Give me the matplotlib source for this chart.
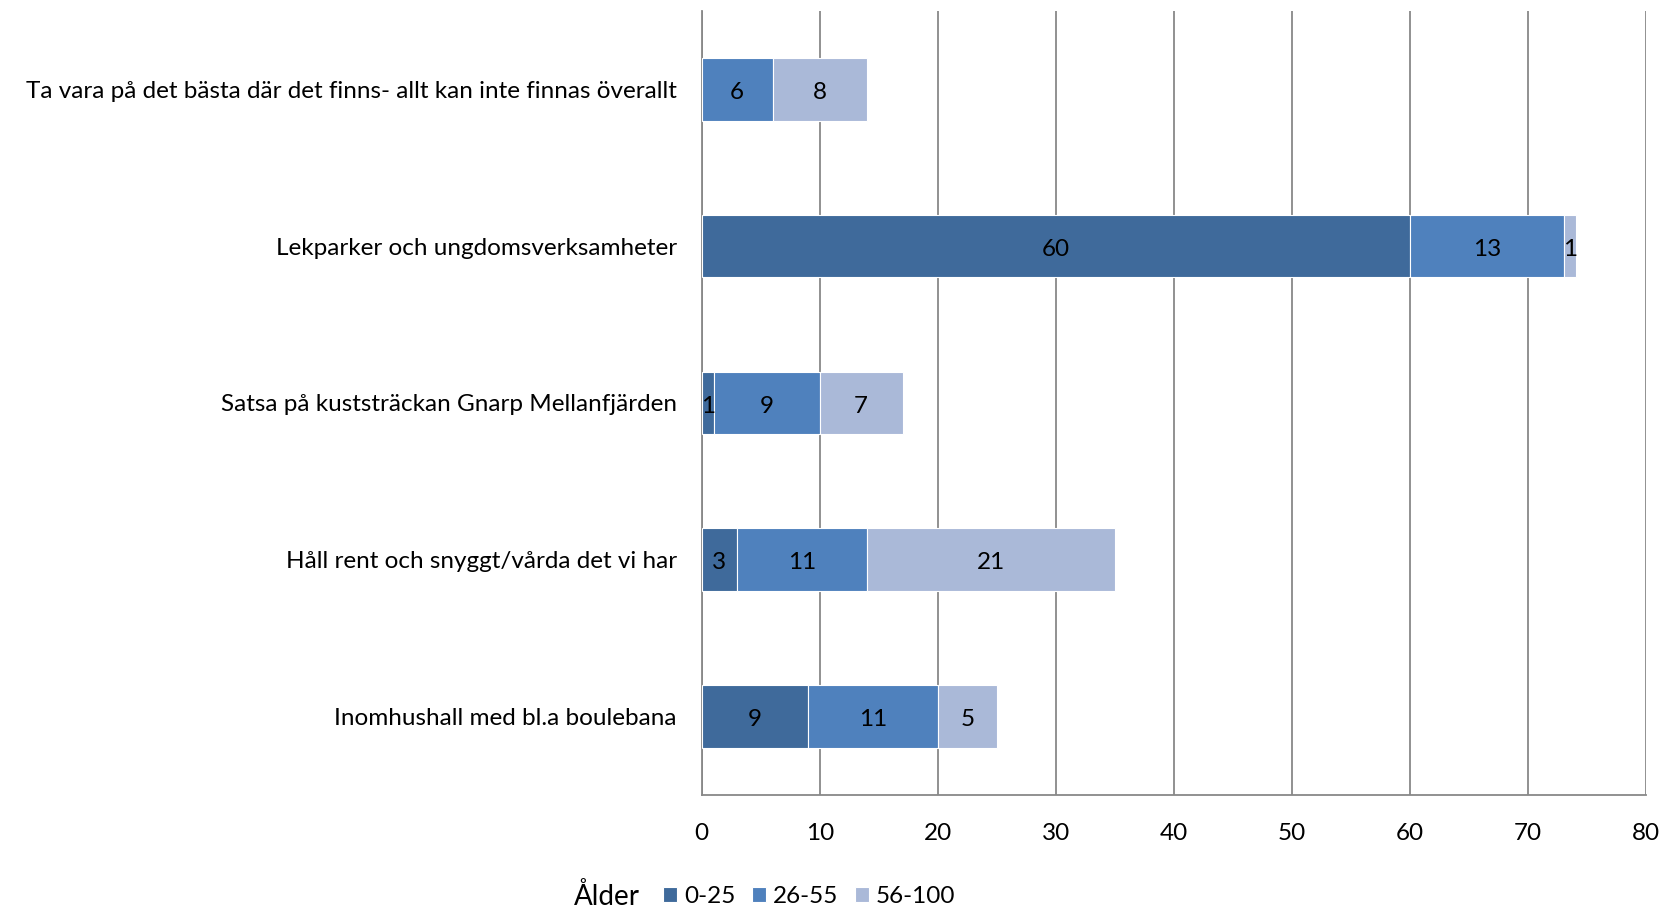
import numpy as np
import matplotlib.pyplot as plt

plt.rcParams['font.family'] = ['Lato', 'DejaVu Sans']

categories = ['Ta vara på det bästa där det finns- allt kan inte finnas överallt',
              'Lekparker och ungdomsverksamheter',
              'Satsa på kuststräckan Gnarp Mellanfjärden',
              'Håll rent och snyggt/vårda det vi har',
              'Inomhushall med bl.a boulebana']
age_groups = ['0-25', '26-55', '56-100']
v_0_25 = [0, 60, 1, 3, 9]
v_26_55 = [6, 13, 9, 11, 11]
v_56_100 = [8, 1, 7, 21, 5]
colors = ['#3F6A9B', '#4F81BD', '#AAB9D8']

fig = plt.figure(figsize=(16.63, 9.10), dpi=100)
ax = fig.add_axes([0.422, 0.1264, 0.568, 0.8616])

y = np.arange(len(categories))[::-1]
left = np.zeros(len(categories))
for vals, lab, col in zip([v_0_25, v_26_55, v_56_100], age_groups, colors):
    vals = np.array(vals)
    bars = ax.barh(y, vals, left=left, height=0.4, color=col, label=lab,
                   edgecolor='white', linewidth=0.8, zorder=3)
    for b, v in zip(bars, vals):
        if v > 0:
            ax.text(b.get_x() + b.get_width() / 2, b.get_y() + b.get_height() / 2 - 0.02,
                    str(v), ha='center', va='center', fontsize=17.5, zorder=4)
    left += vals

ax.set_xlim(0, 80)
ax.set_ylim(-0.5, len(categories) - 0.5)
ax.set_xticks(range(0, 81, 10))
ax.set_yticks(y)
ax.set_yticklabels(categories)
ax.tick_params(axis='both', length=0, labelsize=17.5)
ax.tick_params(axis='x', pad=20)
ax.tick_params(axis='y', pad=18)
ax.xaxis.grid(True, color='#888888', linewidth=1.3, zorder=0)
for s in ['top', 'right']:
    ax.spines[s].set_visible(False)
for s in ['left', 'bottom']:
    ax.spines[s].set_color('#888888')
    ax.spines[s].set_linewidth(1.3)

fig.text(0.345, 0.0, 'Ålder', fontsize=20, ha='left', va='bottom')
fig.legend(loc='lower left', bbox_to_anchor=(0.390, -0.013), ncol=3, frameon=False,
           fontsize=17.5, handlelength=0.55, handleheight=0.55, handletextpad=0.3,
           columnspacing=0.7, borderaxespad=0.2)

fig.savefig('out.png', dpi=100)
